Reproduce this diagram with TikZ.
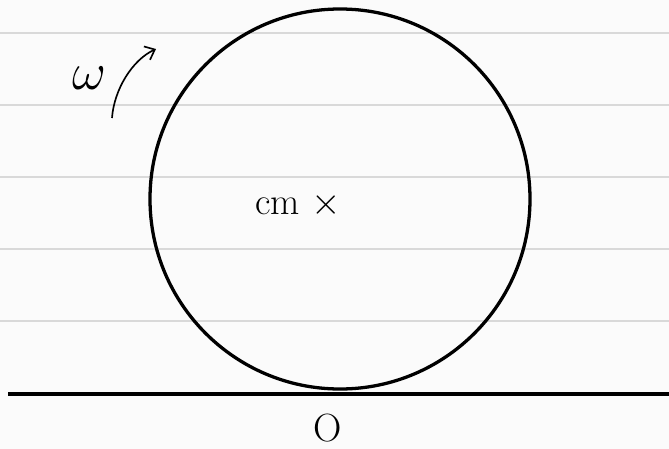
\documentclass[tikz,border=0pt]{standalone}
\usepackage{amsmath}
\usetikzlibrary{arrows.meta, positioning}
\tikzset{
  % a line of the ruled paper
  rule/.style  = {draw=black!15, line width=1.6pt},
  % the rolling disc
  disc/.style  = {draw, circle, line width=2.8pt, minimum size=11.4cm,
                  inner sep=0pt},
  % the floor it rolls on
  floor/.style = {line width=3.4pt},
  % a handwritten label
  hw/.style    = {font=\Huge, inner sep=1pt},
  % the sense of rotation
  spin/.style  = {-{Straight Barb[length=2.6mm,width=4.4mm]}, line width=1.4pt},
}
\begin{document}
\begin{tikzpicture}[x=0.03cm, y=-0.03cm]
  \fill[black!1.5] (0,0) rectangle (669,449);
  \useasboundingbox (0,0) rectangle (669,449);
  \foreach \y in {33,105,177,249,321}
    \draw[rule] (0,\y) -- (669,\y);
  \node[disc] (wheel) at (340,199) {};
  \coordinate (gl) at (8,394);
  \coordinate (gr) at (669,394);
  \draw[floor] (gl) -- (gr);
  \node[hw, scale=1.35] (O) at (328,428) {O};
  \node[hw, scale=1.3] (cm) at (298,205) {cm $\times$};
  \node[hw, scale=1.8] (omega) at (89,78) {$\omega$};
  \coordinate (tail) at (112,118);
  \coordinate (tip) at (156,49);
  \draw[spin] (tail) .. controls (114,90) and (132,60) .. (tip);
\end{tikzpicture}
\end{document}
